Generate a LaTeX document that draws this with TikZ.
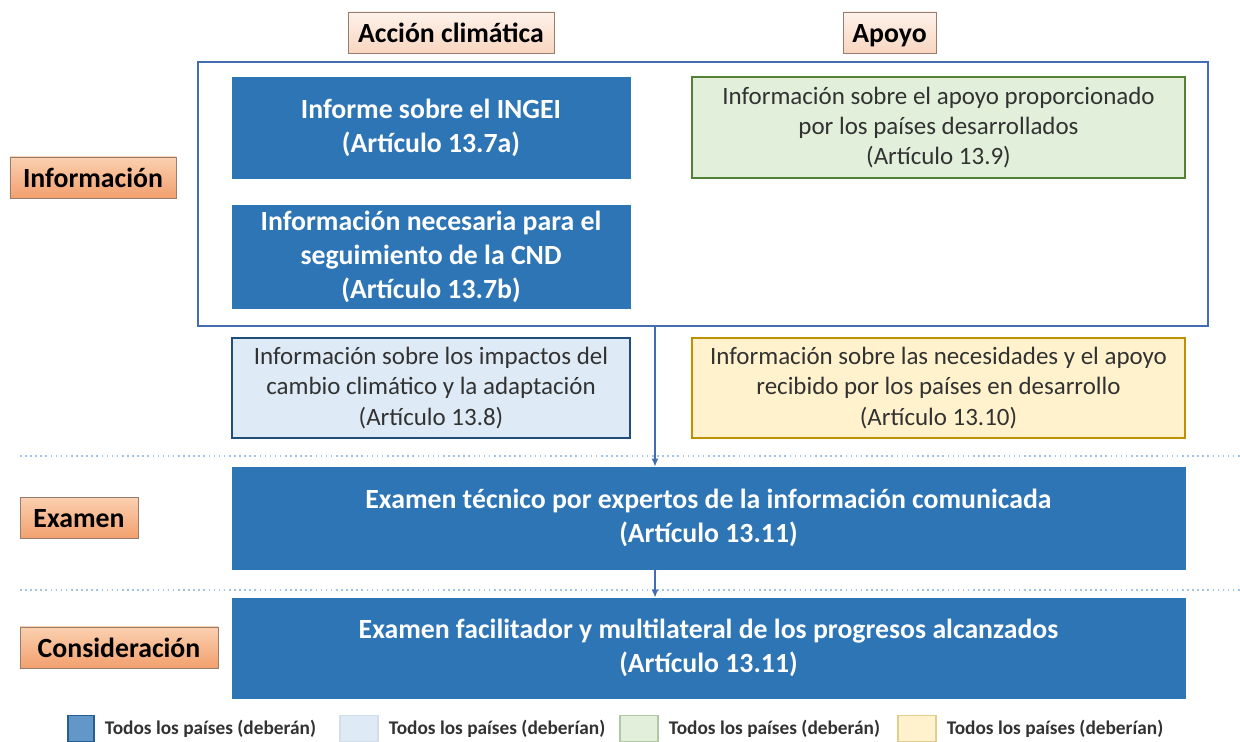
\documentclass[tikz,border=0pt]{standalone}
\usepackage{fontspec}
\setmainfont{Carlito}
\usetikzlibrary{arrows.meta,positioning}
\definecolor{MainBlue}{RGB}{46,117,182}
\definecolor{FrameBlue}{RGB}{68,108,180}
\definecolor{PaleBlue}{RGB}{222,235,247}
\definecolor{DeepBlue}{RGB}{31,78,121}
\definecolor{PaleGreen}{RGB}{226,239,218}
\definecolor{LeafGreen}{RGB}{84,130,53}
\definecolor{PaleYellow}{RGB}{255,242,204}
\definecolor{GoldLine}{RGB}{191,144,0}
\definecolor{PeachTop}{RGB}{254,242,234}
\definecolor{PeachBottom}{RGB}{248,214,192}
\definecolor{OrangeTop}{RGB}{251,208,176}
\definecolor{OrangeBottom}{RGB}{242,160,110}
\definecolor{TabLine}{RGB}{150,125,110}
\definecolor{DotBlue}{RGB}{160,196,230}
\definecolor{InkGray}{RGB}{50,50,50}
\tikzset{
  tabla/.style={draw=TabLine,top color=PeachTop,bottom color=PeachBottom,
    font=\bfseries\fontsize{15.8}{18}\selectfont,text=black,
    text height=12.5pt,text depth=1.5pt,
    minimum height=0.82cm,inner sep=1pt},
  fase/.style={draw=TabLine,top color=OrangeTop,bottom color=OrangeBottom,
    font=\bfseries\fontsize{15.8}{18}\selectfont,text=black,
    text height=12.5pt,text depth=1.5pt,
    minimum height=0.82cm,inner sep=1pt},
  fuerte/.style={draw=MainBlue,fill=MainBlue,text=white,align=center,
    font=\bfseries\fontsize{15.8}{19.3}\selectfont},
  suave/.style={line width=1.3pt,text=InkGray,align=center,
    font=\fontsize{14.2}{17.3}\selectfont},
  cuadro/.style={minimum width=0.6cm,minimum height=0.52cm,inner sep=0pt,
    anchor=south,line width=0.6pt},
  leyenda/.style={font=\bfseries\fontsize{11}{13}\selectfont,text=InkGray,
    inner sep=0pt,right=0.2cm of #1},
  flecha/.style={-{Latex[length=1.6mm,width=1.4mm]},FrameBlue,line width=0.9pt},
  guia/.style={DotBlue,dotted,line width=0.9pt}
}

\begin{document}
\begin{tikzpicture}
\useasboundingbox (0,0) rectangle (24.8,14.84);

% encabezados
\node[tabla,minimum width=4.12cm] (accion) at (9.02,14.19) {Acción climática};
\node[tabla,minimum width=1.86cm] (apoyo) at (17.79,14.19) {Apoyo};

% marco de la informacion
\node[draw=FrameBlue,line width=1.1pt,minimum width=20.2cm,
  minimum height=5.28cm] (marco) at (14.06,10.96) {};

\node[fuerte,minimum width=7.96cm,minimum height=2.02cm] (ingei) at (8.62,12.29)
  {Informe sobre el INGEI\\(Artículo 13.7a)};
\node[fuerte,minimum width=7.96cm,minimum height=2.04cm] (cnd) at (8.62,9.70)
  {Información necesaria para el\\seguimiento de la CND\\(Artículo 13.7b)};
\node[suave,draw=LeafGreen,fill=PaleGreen,minimum width=9.86cm,
  minimum height=2.02cm] (prop) at (18.77,12.29)
  {Información sobre el apoyo proporcionado\\por los países desarrollados\\(Artículo 13.9)};

\node[suave,draw=DeepBlue,fill=PaleBlue,minimum width=7.96cm,
  minimum height=2.0cm] (impac) at (8.62,7.08)
  {Información sobre los impactos del\\cambio climático y la adaptación\\(Artículo 13.8)};
\node[suave,draw=GoldLine,fill=PaleYellow,minimum width=9.86cm,
  minimum height=2.0cm] (neces) at (18.77,7.08)
  {Información sobre las necesidades y el apoyo\\recibido por los países en desarrollo\\(Artículo 13.10)};

% separadores
\coordinate (sep1a) at (0.4,5.72);
\coordinate (sep1b) at (24.8,5.72);
\coordinate (sep2a) at (0.4,3.04);
\coordinate (sep2b) at (24.8,3.04);
\draw[guia] (sep1a) -- (sep1b);
\draw[guia] (sep2a) -- (sep2b);

\node[fuerte,minimum width=19.06cm,minimum height=2.04cm] (examen) at (14.17,4.48)
  {Examen técnico por expertos de la información comunicada\\(Artículo 13.11)};
\node[fuerte,minimum width=19.06cm,minimum height=2.0cm] (consid) at (14.17,1.88)
  {Examen facilitador y multilateral de los progresos alcanzados\\(Artículo 13.11)};

% etapas
\node[fase,minimum width=3.32cm] (f1) at (1.86,11.29) {Información};
\node[fase,minimum width=2.36cm] (f2) at (1.58,4.48) {Examen};
\node[fase,minimum width=3.96cm] (f3) at (2.38,1.89) {Consideración};

% flujo
\coordinate (eje) at (13.1,0);
\draw[flecha] (marco.south -| eje) -- (examen.north -| eje);
\draw[flecha] (examen.south -| eje) -- (consid.north -| eje);

% leyenda
\node[cuadro,draw=MainBlue!80!black,fill=MainBlue!75!white,minimum width=0.52cm] (c1) at (1.62,0) {};
\node[cuadro,draw=PaleBlue!60!DeepBlue!40,fill=PaleBlue,minimum width=0.76cm] (c2) at (7.18,0) {};
\node[cuadro,draw=LeafGreen!45,fill=PaleGreen,minimum width=0.76cm] (c3) at (12.78,0) {};
\node[cuadro,draw=GoldLine!45,fill=PaleYellow,minimum width=0.76cm] (c4) at (18.34,0) {};
\node[leyenda=c1] (t1) {Todos los países (deberán)};
\node[leyenda=c2] (t2) {Todos los países (deberían)};
\node[leyenda=c3] (t3) {Todos los países (deberán)};
\node[leyenda=c4] (t4) {Todos los países (deberían)};
\end{tikzpicture}
\end{document}
